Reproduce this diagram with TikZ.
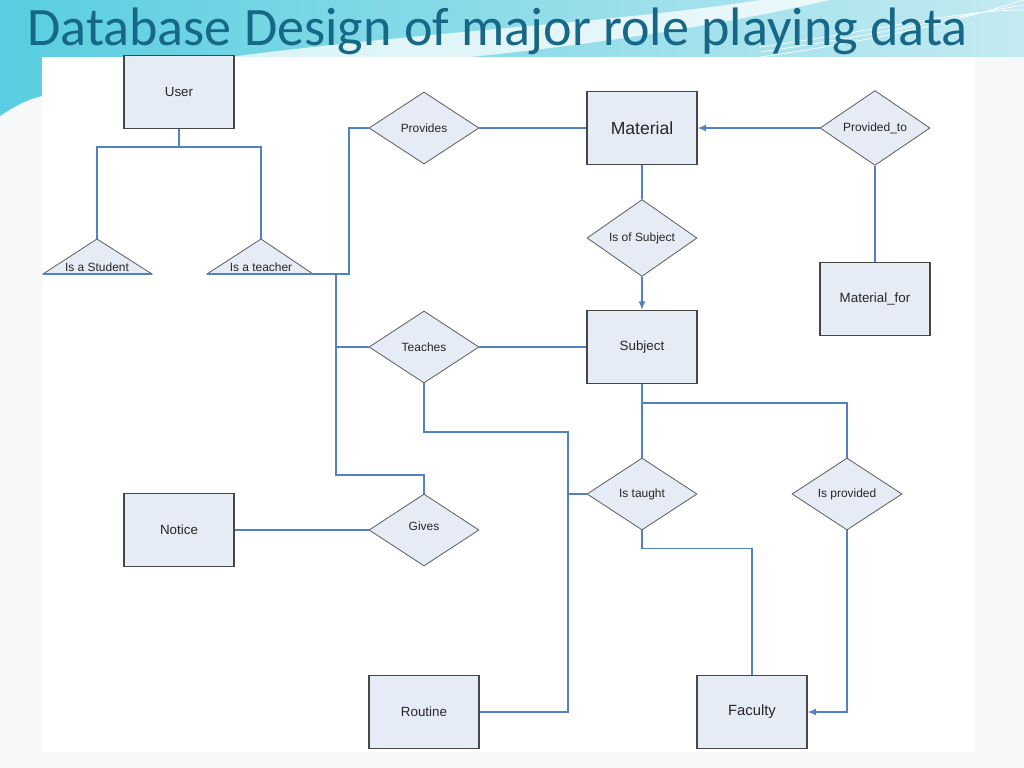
\documentclass[tikz,border=0pt]{standalone}
\usepackage{fontspec}
\setmainfont{Liberation Sans}
\newfontfamily\titlefont{Carlito}
\usetikzlibrary{shapes.geometric,arrows.meta}

\definecolor{erfill}{RGB}{230,236,246}
\definecolor{erborder}{RGB}{70,70,70}
\definecolor{erline}{RGB}{84,128,196}
\definecolor{titleblue}{RGB}{23,104,134}
\definecolor{pagegrey}{RGB}{247,248,249}
\definecolor{bandleft}{RGB}{88,206,224}
\definecolor{bandmid}{RGB}{128,190,210}
\definecolor{bandright}{RGB}{196,234,241}

\tikzset{
  entity/.style={draw=erborder,fill=erfill,line width=0.8pt,minimum width=2.75cm,
    minimum height=1.825cm,inner sep=0pt,text=black!85,font=\fontsize{9.5}{11}\selectfont},
  rel/.style={diamond,draw=erborder!85,fill=erfill,line width=0.6pt,minimum width=2.75cm,
    minimum height=1.8cm,inner sep=0pt,text=black!85,font=\fontsize{8.5}{10}\selectfont},
  isa/.style={draw=erborder!85,fill=erfill,line width=0.6pt},
  isatext/.style={inner sep=0pt,text=black!85,font=\fontsize{8.5}{10}\selectfont},
  link/.style={draw=erline,line width=1.1pt},
  arr/.style={link,-{Latex[length=6pt,width=5pt]}}
}

\begin{document}
\begin{tikzpicture}[x=0.025cm,y=-0.025cm]
\useasboundingbox (0,0) rectangle (1024,768);
% Slide background
\fill[pagegrey] (0,0) rectangle (1024,768);
\shade[left color=bandleft,middle color=bandmid,right color=bandright]
  (0,0) -- (1024,0) -- (1024,57) -- (42,57) -- (42,96)
  .. controls (25,100) and (12,108) .. (0,116) -- cycle;
\fill[white,opacity=0.75] (230,57) .. controls (420,32) and (620,22) .. (760,0)
  -- (830,0) .. controls (700,30) and (560,48) .. (470,57) -- cycle;
\foreach \d in {0,5,10}
  \draw[white,line width=0.5pt] (760,57-\d) .. controls (880,40-\d) and (960,20-\d) .. (1024,\d);
\fill[white] (42,57) rectangle (975,752);
\node[anchor=base west,inner sep=0pt,text=titleblue,font=\titlefont\fontsize{38.5}{44}\selectfont]
  (title) at (27,46) {Database Design of major role playing data};

% Entities
\node[entity] (user) at (179,92) {User};
\node[entity,font=\fontsize{12.5}{14}\selectfont] (material) at (642,128) {Material};
\node[entity] (matfor) at (875,299) {Material\_for};
\node[entity] (subject) at (642,347) {Subject};
\node[entity] (notice) at (179,530) {Notice};
\node[entity] (routine) at (424,712) {Routine};
\node[entity,font=\fontsize{10.5}{12}\selectfont] (faculty) at (752,712) {Faculty};

% Relationships
\node[rel] (provides) at (424,128) {Provides};
\node[rel] (providedto) at (875,128) {Provided\_to};
\node[rel] (isofsubj) at (642,238) {Is of Subject};
\node[rel] (teaches) at (424,347) {Teaches};
\node[rel] (gives) at (424,530) {\raisebox{5pt}{Gives}};
\node[rel] (istaught) at (642,494) {Is taught};
\node[rel] (isprovided) at (847,494) {Is provided};

% Is-a triangles
\draw[isa] (97,239) -- (152,274) -- (43,274) -- cycle;
\draw[isa] (261,239) -- (313,274) -- (207,274) -- cycle;
\draw[link] (43,274) -- (152,274);
\draw[link] (207,274) -- (313,274);
\node[isatext] (student) at (97,267) {Is a Student};
\node[isatext] (teacher) at (261,267) {Is a teacher};
\coordinate (studentTop) at (97,239);
\coordinate (teacherTop) at (261,239);
\coordinate (teacherEnd) at (313,274);
\coordinate (teachTop) at (336,274);
\coordinate (teachDown) at (336,475);
\coordinate (routeTop) at (568,432);

% Connectors
\draw[link] (user.south) -- ++(0,18) coordinate (userFork);
\draw[link] (studentTop) |- (userFork) -| (teacherTop);
\draw[link] (teacherEnd) -- ++(36,0) |- (provides.west);
\draw[link] (teachTop) -- (teachDown) -| (gives.north);
\draw[link] (teachTop |- teaches.west) -- (teaches.west);
\draw[link] (provides.east) -- (material.west);
\draw[arr] (providedto.west) -- (material.east);
\draw[link] (providedto.south) -- (matfor.north);
\draw[link] (material.south) -- (isofsubj.north);
\draw[arr] (isofsubj.south) -- (subject.north);
\draw[link] (teaches.east) -- (subject.west);
\draw[link] (teaches.south) |- (routeTop) |- (routine.east);
\draw[link] (routeTop |- istaught.west) -- (istaught.west);
\draw[link] (subject.south) -- ++(0,19) coordinate (subjFork) -- (istaught.north);
\draw[link] (subjFork) -| (isprovided.north);
\draw[link] (istaught.south) -- ++(0,18) -| (faculty.north);
\draw[arr] (isprovided.south) |- (faculty.east);
\draw[link] (notice.east) -- (gives.west);
\end{tikzpicture}
\end{document}
